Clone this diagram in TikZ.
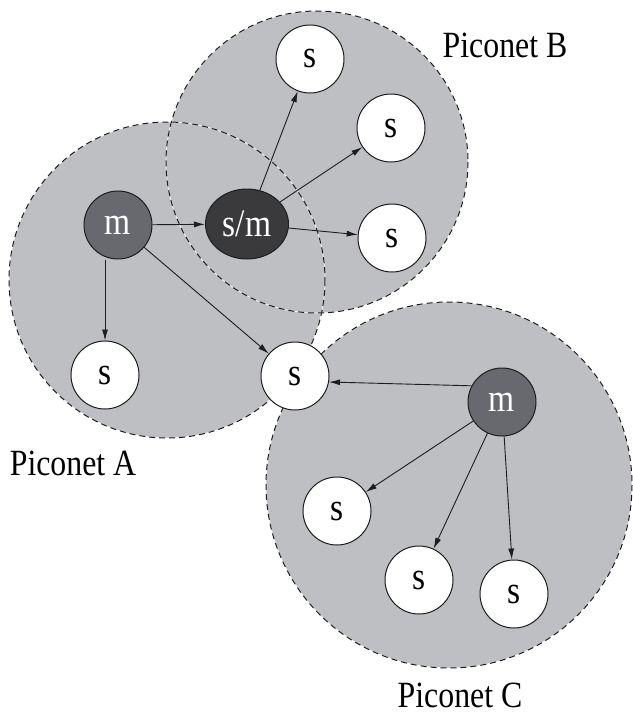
\documentclass[tikz,border=0pt]{standalone}
\usepackage{fontspec}
\setmainfont{Liberation Serif}
\newfontfamily\diagfont[FakeStretch=0.86]{Liberation Serif}
\usetikzlibrary{arrows.meta,shapes.geometric}
\definecolor{netfill}{RGB}{190,191,195}
\definecolor{masterfill}{RGB}{104,105,110}
\definecolor{smfill}{RGB}{58,58,60}
\definecolor{ink}{RGB}{30,28,29}
\tikzset{
  netarea/.style={fill=netfill, draw=none},
  netedge/.style={draw=ink, line width=1pt, dash pattern=on 6pt off 4pt},
  netunder/.style={draw=white, line width=0.6pt},
  slave/.style={circle, draw=ink, line width=1pt, fill=white, minimum size=68pt, inner sep=0pt, font=\diagfont\fontsize{39}{44}\selectfont},
  master/.style={slave, fill=masterfill, text=white},
  bridge/.style={ellipse, draw=ink, line width=1pt, fill=smfill, text=white, minimum width=83pt, minimum height=70pt, inner sep=0pt, font=\diagfont\fontsize{39}{44}\selectfont},
  link/.style={draw=ink, line width=0.9pt, -{Latex[length=11pt,width=6pt]}},
  netlabel/.style={inner sep=0pt, anchor=base, font=\diagfont\fontsize{37}{42}\selectfont}
}
\begin{document}
\begin{tikzpicture}[x=1pt,y=-1pt]
\useasboundingbox (0,0) rectangle (632,715);
% piconet areas
\coordinate (cA) at (167,280);
\coordinate (cB) at (317,162);
\coordinate (cC) at (449,485);
\fill[netarea] (cA) circle[radius=158];
\fill[netarea] (cB) circle[radius=151];
\fill[netarea] (cC) circle[radius=183];
\foreach \c/\r in {cA/158,cB/151,cC/183}{
  \draw[netunder] (\c) circle[radius=\r];
  \draw[netedge] (\c) circle[radius=\r];
}
% nodes
\node[master] (mA) at (118,225) {m};
\node[bridge] (sm) at (247,224) {s/m};
\node[slave] (sB1) at (310,59) {s};
\node[slave] (sB2) at (391,128) {s};
\node[slave] (sB3) at (392,238) {s};
\node[slave] (sA1) at (105,375) {s};
\node[slave] (sS) at (295,376) {s};
\node[master] (mC) at (502,402) {m};
\node[slave] (sC1) at (337,511) {s};
\node[slave] (sC2) at (419,580) {s};
\node[slave] (sC3) at (514,594) {s};
% links
\draw[link] (mA) -- (sm);
\draw[link] (sA1 |- mA.south) -- (sA1.north);
\draw[link] (mA) -- (sS);
\draw[link] (sm) -- (sB1);
\draw[link] (sm) -- (sB2);
\draw[link] (sm) -- (sB3);
\draw[link] (mC.152) -- (sS.-10);
\draw[link] (mC) -- (sC1);
\draw[link] (mC) -- (sC2);
\draw[link] (mC) -- (sC3);
% labels
\node[netlabel] (lB) at (505,57) {Piconet B};
\node[netlabel] (lA) at (73,475) {Piconet A};
\node[netlabel] (lC) at (460,707) {Piconet C};
\end{tikzpicture}
\end{document}
